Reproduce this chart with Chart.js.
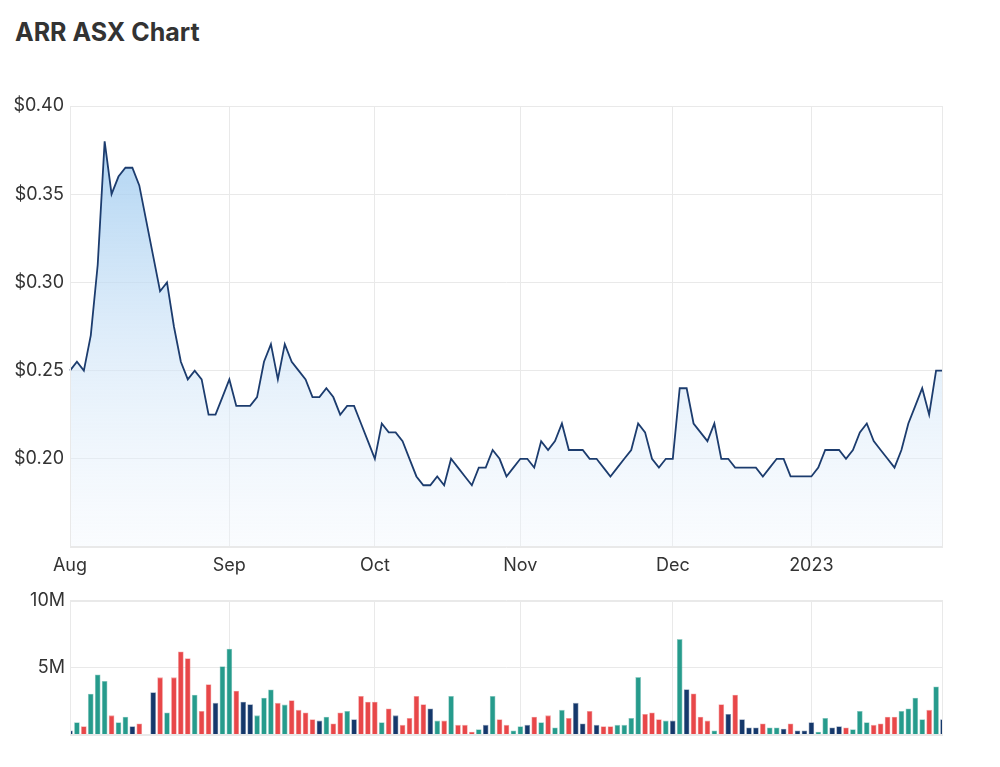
<!DOCTYPE html>
<html>
<head>
<meta charset="utf-8">
<script src="https://cdn.jsdelivr.net/npm/chart.js@4.4.1/dist/chart.umd.min.js"></script>
<style>
  html, body { margin: 0; padding: 0; background: #ffffff; }
  body { width: 1000px; height: 767px; position: relative; overflow: hidden; font-family: Inter, Roboto, sans-serif; }
  #title { position: absolute; left: 15px; top: 17px; font-size: 25px; font-weight: 700; color: #333333; }
  #wrapPrice { position: absolute; left: 0; top: 0; width: 1000px; height: 590px; }
  #wrapVol { position: absolute; left: 0; top: 585px; width: 1000px; height: 182px; }
</style>
</head>
<body>
<div id="title">ARR ASX Chart</div>
<div id="wrapPrice"><canvas id="price"></canvas></div>
<div id="wrapVol"><canvas id="vol"></canvas></div>
<script>
// ---- data ----
const closePrice = [
  0.25,0.255,0.25,0.27,0.31,0.38,0.35,0.36,0.365,0.365,
  0.355,0.335,0.315,0.295,0.30,0.275,0.255,0.245,0.25,0.245,
  0.225,0.225,0.235,0.245,0.23,0.23,0.23,0.235,0.255,0.265,
  0.245,0.265,0.255,0.25,0.245,0.235,0.235,0.24,0.235,0.225,
  0.23,0.23,0.22,0.21,0.20,0.22,0.215,0.215,0.21,0.20,
  0.19,0.185,0.185,0.19,0.185,0.20,0.195,0.19,0.185,0.195,
  0.195,0.205,0.20,0.19,0.195,0.20,0.20,0.195,0.21,0.205,
  0.21,0.22,0.205,0.205,0.205,0.20,0.20,0.195,0.19,0.195,
  0.20,0.205,0.22,0.215,0.20,0.195,0.20,0.20,0.24,0.24,
  0.22,0.215,0.21,0.22,0.20,0.20,0.195,0.195,0.195,0.195,
  0.19,0.195,0.20,0.20,0.19,0.19,0.19,0.19,0.195,0.205,
  0.205,0.205,0.20,0.205,0.215,0.22,0.21,0.205,0.20,0.195,
  0.205,0.22,0.23,0.24,0.225,0.25,0.25
];
const volumeMillions = [
  0.32,0.93,0.63,3.05,4.49,4.0,1.44,0.93,1.34,0.63,
  0.83,0.05,3.17,4.27,1.66,4.27,6.2,5.7,2.98,1.76,
  3.76,2.37,5.1,6.41,3.27,2.46,2.27,1.44,2.76,3.37,
  2.37,2.24,2.56,1.85,1.66,1.15,1.05,1.34,0.83,1.66,
  1.76,1.15,2.88,2.46,2.46,0.93,1.95,1.44,0.73,1.24,
  2.88,2.27,1.95,1.05,1.05,2.88,0.73,0.73,0.22,0.41,
  0.73,2.88,1.15,0.73,0.32,0.63,0.73,1.34,0.93,1.44,
  0.54,1.85,1.24,2.37,0.83,1.76,0.73,0.63,0.63,0.73,
  0.73,1.24,4.29,1.54,1.66,1.15,1.05,1.05,7.12,3.39,
  3.07,1.34,1.05,0.32,2.27,1.54,2.98,1.15,0.54,0.54,
  0.83,0.54,0.54,0.44,0.83,0.32,0.32,0.93,0.22,1.24,
  0.54,0.63,0.54,0.41,1.76,0.93,0.73,0.83,1.34,1.34,
  1.76,1.95,2.76,1.15,1.85,3.59,1.15
];
// u = up day, d = down day, f = flat day (as coloured in the reference)
const volumeMove = (
  'fuduuuduuf' + 'dffdudddud' + 'dfuudffuuu' + 'duddddfudd' +
  'ufdddudfdd' + 'ddfududddu' + 'fudduufdud' + 'uudffdfddu' +
  'uuudddufuf' + 'dddudfdfff' + 'duufdfffuu' + 'ffduuudddd' + 'uuuuduf'
).split('');
const monthLabels = ['Aug', 'Sep', 'Oct', 'Nov', 'Dec', '2023'];
const monthStartIndex = [0, 23, 44, 65, 87, 107];
const priceTicks = [0.20, 0.25, 0.30, 0.35, 0.40];
const volumeTicks = [5, 10];

const categories = closePrice.map((_, i) => i);
const volumeValues = volumeMillions.map(v => v * 1e6);

// ---- styling ----
const TEXT = '#333333';
const GRID = '#e9e9e9';
const FONT = 'Inter, Roboto, sans-serif';
const moveColor = { u: '#269b8c', d: '#e84749', f: '#15386b' };

const boxPlugin = {
  id: 'box',
  afterDraw(chart) {
    const a = chart.chartArea, c = chart.ctx;
    c.save();
    c.strokeStyle = GRID;
    c.lineWidth = 1;
    c.strokeRect(Math.round(a.left) + 0.5, Math.round(a.top) + 0.5,
                 Math.round(a.right - a.left) - 1, Math.round(a.bottom - a.top) - 1);
    c.restore();
  }
};

function monthTickFilter(scale) {
  scale.ticks = scale.ticks.filter(t => monthStartIndex.includes(t.value));
}
function monthLabel(value) {
  const k = monthStartIndex.indexOf(value);
  return k >= 0 ? monthLabels[k] : '';
}

const priceChart = new Chart(document.getElementById('price'), {
  type: 'line',
  data: {
    labels: categories,
    datasets: [{
      data: closePrice,
      borderColor: '#1c3c6e',
      borderWidth: 1.8,
      pointRadius: 0,
      tension: 0,
      fill: 'start',
      backgroundColor(ctx) {
        const area = ctx.chart.chartArea;
        if (!area) return 'rgba(190,220,245,0.6)';
        const g = ctx.chart.ctx.createLinearGradient(0, area.top, 0, area.bottom);
        g.addColorStop(0, 'rgba(150,198,238,0.85)');
        g.addColorStop(0.55, 'rgba(205,227,247,0.6)');
        g.addColorStop(1, 'rgba(240,246,253,0.35)');
        return g;
      }
    }]
  },
  options: {
    responsive: true,
    maintainAspectRatio: false,
    animation: false,
    devicePixelRatio: 1,
    layout: { padding: { top: 106, right: 57, bottom: 0, left: 0 } },
    plugins: { legend: { display: false }, tooltip: { enabled: false } },
    scales: {
      x: {
        type: 'category',
        offset: false,
        afterBuildTicks: monthTickFilter,
        afterFit(scale) { scale.height = 43; },
        grid: { color: GRID, drawTicks: false },
        border: { display: false },
        ticks: {
          autoSkip: false, maxRotation: 0, padding: 8,
          color: TEXT, font: { family: FONT, size: 18 },
          callback(value) { return monthLabel(value); }
        }
      },
      y: {
        min: 0.15, max: 0.40,
        afterBuildTicks(scale) {
          scale.ticks = [0.15].concat(priceTicks).map(v => ({ value: v }));
        },
        afterFit(scale) { scale.width = 70; },
        grid: { color: GRID, drawTicks: false },
        border: { display: false },
        ticks: {
          padding: 6, color: TEXT, font: { family: FONT, size: 18 },
          callback(v) { return v < 0.18 ? '' : '$' + Number(v).toFixed(2); }
        }
      }
    }
  },
  plugins: [boxPlugin]
});

const volChart = new Chart(document.getElementById('vol'), {
  type: 'bar',
  data: {
    labels: categories,
    datasets: [{
      data: volumeValues,
      backgroundColor: volumeMove.map(m => moveColor[m]),
      borderColor: volumeMove.map(m => moveColor[m] + '80'),
      borderWidth: 0.8,
      borderSkipped: 'bottom',
      barThickness: 5
    }]
  },
  options: {
    responsive: true,
    maintainAspectRatio: false,
    animation: false,
    devicePixelRatio: 1,
    layout: { padding: { top: 13, right: 57, bottom: 32, left: 0 } },
    plugins: { legend: { display: false }, tooltip: { enabled: false } },
    scales: {
      x: {
        type: 'category',
        offset: false,
        afterBuildTicks: monthTickFilter,
        afterFit(scale) { scale.height = 0; },
        grid: { color: GRID, drawTicks: false, offset: false },
        border: { display: false },
        ticks: { display: false }
      },
      y: {
        min: 0, max: 10e6,
        afterBuildTicks(scale) {
          scale.ticks = [0].concat(volumeTicks.map(v => v * 1e6)).map(v => ({ value: v }));
        },
        afterFit(scale) { scale.width = 70; },
        grid: { color: GRID, drawTicks: false },
        border: { display: false },
        ticks: {
          padding: 5, color: TEXT, font: { family: FONT, size: 18 },
          callback(v) { return v === 0 ? '' : (v / 1e6) + 'M'; }
        }
      }
    }
  },
  plugins: [boxPlugin]
});
</script>
</body>
</html>
